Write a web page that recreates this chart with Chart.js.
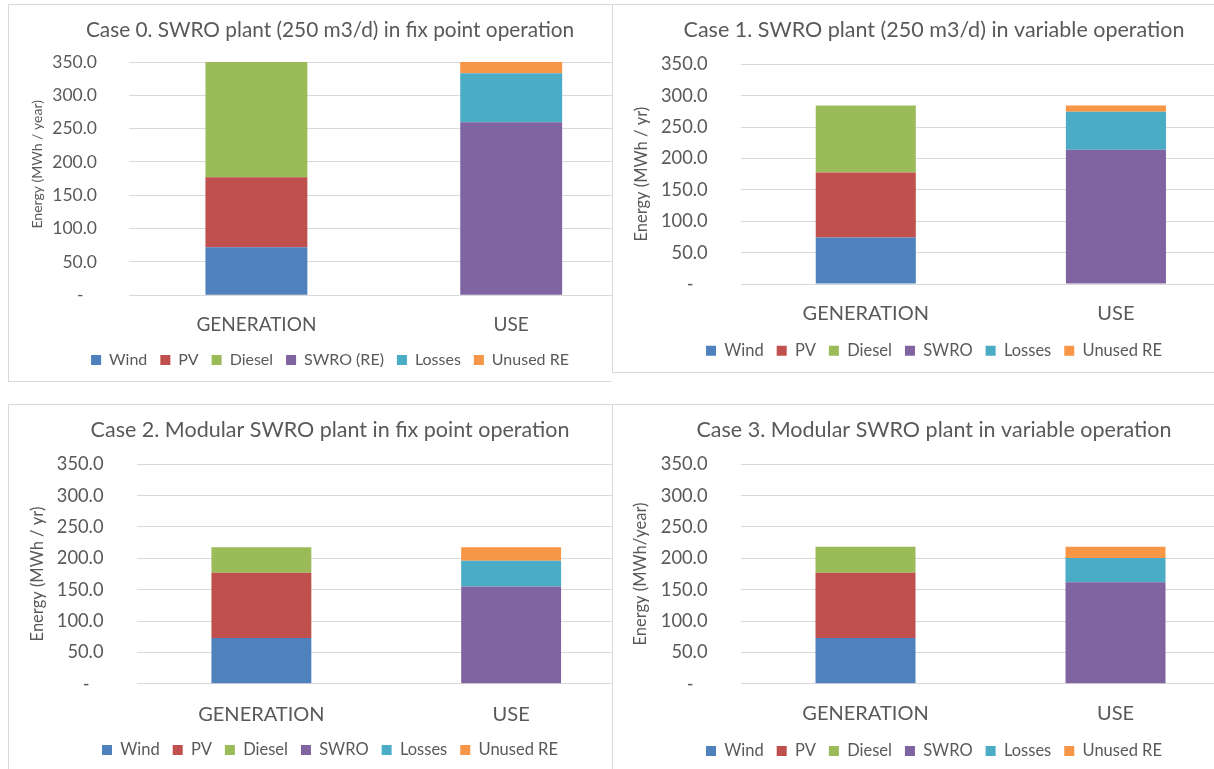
<!DOCTYPE html>
<html>
<head>
<meta charset="utf-8">
<title>SWRO plant energy balance</title>
<script src="https://cdn.jsdelivr.net/npm/chart.js@4.4.1/dist/chart.umd.min.js"></script>
<style>
  html, body { margin: 0; padding: 0; background: #ffffff; }
  body { width: 1214px; height: 769px; overflow: hidden; position: relative; font-family: Lato, sans-serif; }
  .panel { position: absolute; box-sizing: border-box; border: 1px solid #d9d9d9; background: #ffffff; overflow: hidden; }
  .panel canvas { position: absolute; left: 0; top: 0; }
</style>
</head>
<body>
<div class="panel" style="left:8px;top:4px;width:604px;height:378px;border-right:none;z-index:1"><canvas id="c0"></canvas></div>
<div class="panel" style="left:612px;top:4px;width:620px;height:369px;z-index:2"><canvas id="c1"></canvas></div>
<div class="panel" style="left:8px;top:404px;width:604px;height:380px;border-right:none;z-index:1"><canvas id="c2"></canvas></div>
<div class="panel" style="left:612px;top:404px;width:620px;height:380px;z-index:2"><canvas id="c3"></canvas></div>
<script>
// ---- data ----
const categories = ['GENERATION', 'USE'];
const caseTitles = [
  'Case 0. SWRO plant (250 m3/d) in fix point operation',
  'Case 1. SWRO plant (250 m3/d) in variable operation',
  'Case 2. Modular SWRO plant in fix point operation',
  'Case 3. Modular SWRO plant in variable operation'
];
const yAxisTitles = ['Energy (MWh / year)', 'Energy (MWh / yr)', 'Energy (MWh / yr)', 'Energy (MWh/year)'];
const seriesNames = ['Wind', 'PV', 'Diesel', 'SWRO', 'Losses', 'Unused RE'];
const swroNames = ['SWRO (RE)', 'SWRO', 'SWRO', 'SWRO'];

// MWh per year, one entry per case (0..3)
const windGen   = [72, 74, 73, 73];
const pvGen     = [105, 103.5, 104, 104];
const dieselGen = [173, 107, 40.5, 41.6];
const swroUse   = [259.5, 214, 155, 161.7];
const lossesUse = [73.5, 60.5, 41, 38.8];
const unusedUse = [17, 10, 21.5, 18.1];

const yTickLabels = ['-', '50.0', '100.0', '150.0', '200.0', '250.0', '300.0', '350.0'];
const yMax = 350;
const yStep = 50;

// ---- styling ----
const FONT = 'Lato, "Open Sans", sans-serif';
const TEXT = '#595959';
const GRID = '#d9d9d9';
const colors = ['#4F81BD', '#C0504D', '#9BBB59', '#8064A2', '#4BACC6', '#F79646'];

const smallFonts = { title: 20.8, tick: 17.5, cat: 19, legend: 16, yTitle: 14 };
const bigFonts = { title: 21.5, tick: 18.3, cat: 20, legend: 16.5, yTitle: 16.5 };

// canvas geometry of each chart (px inside its panel)
const layouts = [
  { W: 642, H: 377, plot: { l: 120, r: 629.6, t: 57, b: 290.3 }, titleC: 25, catC: 320, legC: 355, yTitleC: 28, yTitleLead: 8, tickPad: 32, fonts: smallFonts },
  { W: 642, H: 368, plot: { l: 127.7, r: 628, t: 59.3, b: 279 }, titleC: 25, catC: 309, legC: 345.7, yTitleC: 29, yTitleLead: 0, tickPad: 33, fonts: bigFonts },
  { W: 642, H: 368, plot: { l: 127.5, r: 627, t: 59.3, b: 278.7 }, titleC: 25, catC: 309.3, legC: 345, yTitleC: 29, yTitleLead: 0, tickPad: 33, fonts: bigFonts },
  { W: 642, H: 368, plot: { l: 127.5, r: 627.5, t: 59.3, b: 278.7 }, titleC: 25, catC: 309, legC: 346, yTitleC: 28, yTitleLead: 0, tickPad: 33, fonts: bigFonts }
];

function buildChart(i) {
  const L = layouts[i];
  const f = L.fonts;
  const canvas = document.getElementById('c' + i);
  canvas.width = L.W;
  canvas.height = L.H;
  canvas.style.width = L.W + 'px';
  canvas.style.height = L.H + 'px';

  // equal side padding keeps title and legend centred on the canvas
  const side = L.W - L.plot.r;
  const legendPad = 13;
  const padBottom = L.H - 10 - f.legend / 2 - L.legC;
  const legendTop = L.H - padBottom - f.legend - legendPad - 10;
  const xHeight = legendTop - L.plot.b;

  const values = [
    [windGen[i], null],
    [pvGen[i], null],
    [dieselGen[i], null],
    [null, swroUse[i]],
    [null, lossesUse[i]],
    [null, unusedUse[i]]
  ];
  const names = seriesNames.slice();
  names[3] = swroNames[i];

  new Chart(canvas, {
    type: 'bar',
    data: {
      labels: categories,
      datasets: names.map((n, k) => ({
        label: n,
        data: values[k],
        backgroundColor: colors[k],
        borderColor: colors[k],
        borderWidth: 0,
        barPercentage: 0.4,
        categoryPercentage: 1
      }))
    },
    options: {
      responsive: false,
      animation: false,
      devicePixelRatio: 1,
      layout: { padding: { left: side, top: 0, right: side, bottom: padBottom } },
      plugins: {
        title: {
          display: true,
          text: caseTitles[i],
          color: TEXT,
          font: { family: FONT, size: f.title, weight: 'normal' },
          padding: { top: L.titleC - 0.6 * f.title, bottom: L.plot.t - L.titleC - 0.6 * f.title }
        },
        legend: {
          position: 'bottom',
          labels: {
            color: TEXT,
            font: { family: FONT, size: f.legend },
            boxWidth: 10,
            boxHeight: 10,
            padding: legendPad
          }
        },
        tooltip: { enabled: false }
      },
      scales: {
        x: {
          stacked: true,
          grid: { display: false, drawTicks: false },
          border: { display: false },
          ticks: {
            color: TEXT,
            font: { family: FONT, size: f.cat },
            padding: L.catC - L.plot.b - 0.6 * f.cat,
            maxRotation: 0
          },
          afterFit: s => { s.height = xHeight; }
        },
        y: {
          stacked: true,
          min: 0,
          max: yMax,
          ticks: {
            stepSize: yStep,
            color: TEXT,
            font: { family: FONT, size: f.tick },
            padding: L.tickPad,
            callback: v => {
              const lab = yTickLabels[Math.round(v / yStep)];
              return lab === '-' ? lab + '   ' : lab;
            }
          },
          grid: { color: GRID, lineWidth: 1, drawTicks: false },
          border: { display: false },
          title: {
            display: true,
            text: ' '.repeat(L.yTitleLead) + yAxisTitles[i],
            color: TEXT,
            font: { family: FONT, size: f.yTitle },
            padding: { top: Math.max(0, L.yTitleC - 0.6 * f.yTitle - side), bottom: 0 }
          },
          afterFit: s => { s.width = L.plot.l - side; }
        }
      }
    }
  });
}

for (let i = 0; i < 4; i++) buildChart(i);
</script>
</body>
</html>
